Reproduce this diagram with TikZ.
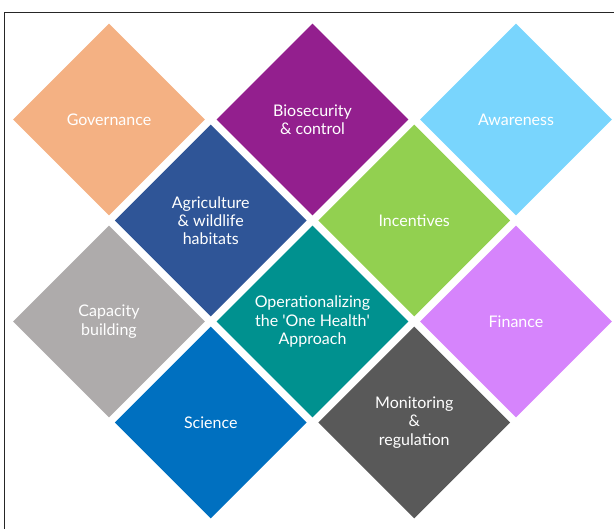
\documentclass[tikz,border=0pt]{standalone}
\usepackage{fontspec}
\setmainfont{Lato}
\usetikzlibrary{shapes.geometric}

\definecolor{peach}{HTML}{F4B183}
\definecolor{plum}{HTML}{931F8E}
\definecolor{sky}{HTML}{79D5FD}
\definecolor{navy}{HTML}{2F5597}
\definecolor{lime}{HTML}{92D050}
\definecolor{stone}{HTML}{AEABAB}
\definecolor{teal}{HTML}{00918F}
\definecolor{lilac}{HTML}{D684FC}
\definecolor{ocean}{HTML}{0070C0}
\definecolor{slate}{HTML}{595959}

\tikzstyle{tile} = [
    diamond,
    aspect=1,
    minimum width=192pt,
    minimum height=192pt,
    inner sep=0pt,
    text=white,
    align=center,
    font=\fontsize{16}{18.3}\selectfont
]
\tikzstyle{frame} = [line width=1.2pt, draw=black!85]

\begin{document}
\begin{tikzpicture}[x=1pt, y=-1pt]

\useasboundingbox (0,0) rectangle (614,529);
\draw [frame] (4.5,529) -- (4.5,12.5) -- (614,12.5);

% top row
\node (governance) [tile, fill=peach] at (109,119.5) {Governance};
\node (biosecurity) [tile, fill=plum] at (312.5,119.5) {Biosecurity\\\& control};
\node (awareness) [tile, fill=sky] at (516,119.5) {Awareness};

% second row
\node (agriculture) [tile, fill=navy] at (210.75,220.5)
{Agriculture\\\& wildlife\\habitats};
\node (incentives) [tile, fill=lime] at (414.25,220.5) {Incentives};

% third row
\node (capacity) [tile, fill=stone] at (109,321.5) {Capacity\\building};
\node (onehealth) [tile, fill=teal] at (312.5,321.5)
{Operationalizing\\the \textquotesingle One Health\textquotesingle\\Approach};
\node (finance) [tile, fill=lilac] at (516,321.5) {Finance};

% bottom row
\node (science) [tile, fill=ocean] at (210.75,422.5) {Science};
\node (monitoring) [tile, fill=slate] at (414.25,422.5)
{Monitoring\\\&\\regulation};

\end{tikzpicture}
\end{document}
